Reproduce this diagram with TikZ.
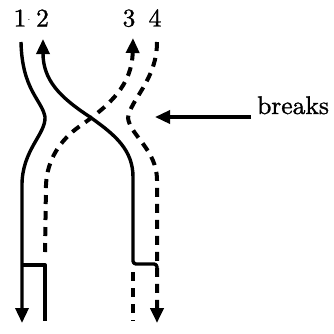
\documentclass[tikz,border=0pt]{standalone}
\usepackage{mathtools, amsmath, amssymb}
\usepackage{fontspec}
\usepackage{tikz}
\usetikzlibrary{arrows.meta}
\newfontfamily\lblfont{lmroman10-regular.otf}[FakeBold=1.2]

\begin{document}
\begin{tikzpicture}[x=1pt, y=-1pt,
		strand/.style={line width=3.4pt, line join=round},
		dstrand/.style={line width=4pt, dash pattern=on 9pt off 7pt},
		tip/.style={-{Triangle[length=15pt, width=13pt]}},
		lbl/.style={anchor=base, inner sep=0pt, font=\lblfont\fontsize{25.5}{30}\selectfont}]
		\useasboundingbox (0,0) rectangle (334,333);
		% strand labels
		\node[lbl] (n1) at (20,26.5) {1};
		\node[lbl, font=\fontsize{10}{10}\selectfont] (dot) at (29,22) {$\cdot$};
		\node[lbl] (n2) at (42.5,26.5) {2};
		\node[lbl] (n3) at (129,26.5) {3};
		\node[lbl] (n4) at (155,26.5) {4};
		% solid strands
		\draw[strand, tip]
		(21,42) .. controls (22,90) and (42,100) .. (45,117)
		.. controls (46,134) and (22,150) .. (22,185)
		-- (22,323);
		\draw[strand]
		(22,265) -- (45,265) -- (45,321);
		\draw[strand, tip, rounded corners=3pt]
		(157,276) -- (157,264) -- (133,264) -- (133,180)
		.. controls (133,150) and (115,135) .. (90,117)
		.. controls (60,97) and (43,80) .. (43,39);
		% dashed strands
		\draw[dstrand, tip]
		(45,252) -- (46,185)
		.. controls (47,160) and (60,140) .. (80,126)
		.. controls (110,105) and (132,85) .. (133,38);
		\draw[dstrand, tip]
		(157,42) .. controls (157,80) and (130,100) .. (128,118)
		.. controls (130,135) and (157,150) .. (157,180)
		-- (157,323);
		\draw[dstrand]
		(133,272) -- (133,321);
		% label for the breaks
		\node[lbl, anchor=base west] (brk) at (257,114) {breaks};
		\coordinate (brkpt) at (155,117);
		\draw[strand, tip] ([xshift=-6pt]brk.west |- brkpt) -- (brkpt);
	\end{tikzpicture}
\end{document}
